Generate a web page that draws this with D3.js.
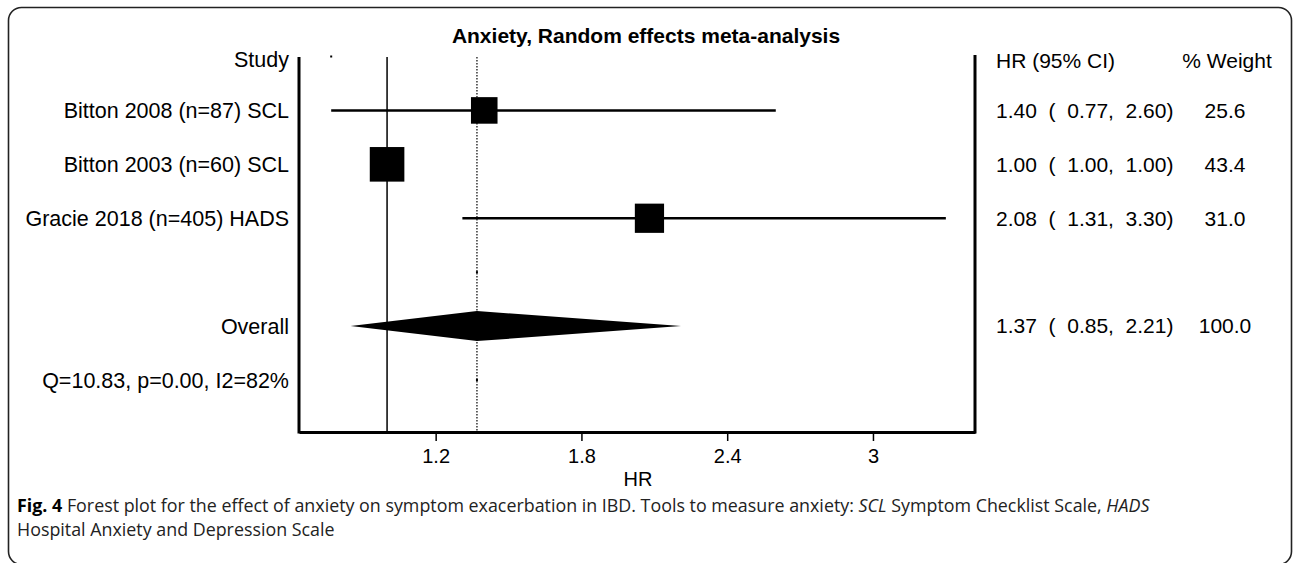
<!DOCTYPE html>
<html>
<head>
<meta charset="utf-8">
<script src="https://cdn.jsdelivr.net/npm/d3@7"></script>
<style>
	body { margin: 0; background: #fff; }
	svg text { font-family: "Liberation Sans", Arial, sans-serif; }
</style>
</head>
<body>
<svg id="forest" width="1293" height="563"></svg>
<script>
// study level data
var studies = ["Bitton 2008 (n=87) SCL", "Bitton 2003 (n=60) SCL", "Gracie 2018 (n=405) HADS"];
var hr = [1.40, 1.00, 2.08];
var lower = [0.77, 1.00, 1.31];
var upper = [2.60, 1.00, 3.30];
var weights = [25.6, 43.4, 31.0];

// pooled estimate
var overallHr = 1.37;
var overallCi = [0.85, 2.21];
var overallWeight = 100.0;
var hetLabel = "Q=10.83, p=0.00, I2=82%";

var xTicks = [1.2, 1.8, 2.4, 3];
var rows = ["header", "s0", "s1", "s2", "blank", "overall", "het"];

drawForest();

function drawForest(){
	var svg = d3.select("#forest");

	var left = 299, right = 975, axisY = 432;

	var x = d3.scaleLinear()
		.domain([0.6375, 3.42])
		.range([left, right]);

	var y = d3.scalePoint()
		.domain(rows)
		.range([56.5, 380]);

	var fmt = d3.format(".2f");

	// card border (bottom edge sits just below the window)
	svg.append("rect")
		.attr("x", 8.5)
		.attr("y", 7.5)
		.attr("width", 1283)
		.attr("height", 557)
		.attr("rx", 13)
		.attr("fill", "none")
		.attr("stroke", "#222")
		.attr("stroke-width", 1.6);

	svg.append("text")
		.attr("x", 646)
		.attr("y", 43)
		.attr("text-anchor", "middle")
		.attr("font-size", 21)
		.attr("font-weight", "bold")
		.text("Anxiety, Random effects meta-analysis");

	var g = svg.append("g");

	// reference lines at 1 and at the pooled estimate
	g.append("line")
		.attr("x1", x(1)).attr("x2", x(1))
		.attr("y1", 57).attr("y2", axisY)
		.attr("stroke", "#000")
		.attr("stroke-width", 1.5);

	g.append("line")
		.attr("x1", x(overallHr)).attr("x2", x(overallHr))
		.attr("y1", 57).attr("y2", axisY)
		.attr("stroke", "#000")
		.attr("stroke-width", 1.2)
		.attr("stroke-dasharray", "1.5,1.5");

	// frame lines
	g.append("line")
		.attr("x1", left).attr("x2", left)
		.attr("y1", 57).attr("y2", axisY + 1.5)
		.attr("stroke", "#000")
		.attr("stroke-width", 3);

	g.append("line")
		.attr("x1", right).attr("x2", right)
		.attr("y1", 55).attr("y2", axisY + 1.5)
		.attr("stroke", "#000")
		.attr("stroke-width", 3);

	var axis = g.append("g")
		.attr("transform", "translate(0," + axisY + ")")
		.call(d3.axisBottom(x).tickValues(xTicks).tickFormat(d3.format("")).tickSize(9).tickSizeOuter(0).tickPadding(8));

	axis.select(".domain")
		.attr("stroke-width", 3);
	axis.selectAll(".tick line")
		.attr("stroke-width", 1.5);
	axis.selectAll(".tick text")
		.attr("font-size", 20)
		.attr("font-family", "Liberation Sans, Arial, sans-serif")
		.attr("fill", "#000");

	svg.append("text")
		.attr("x", 638)
		.attr("y", 486)
		.attr("text-anchor", "middle")
		.attr("font-size", 20)
		.text("HR");

	// tiny markers drawn by the original package
	var dots = [{row: "header", v: lower[0]}, {row: "blank", v: overallHr}, {row: "het", v: overallHr}];
	g.selectAll(".dot")
		.data(dots)
		.enter().append("rect")
			.attr("class", "dot")
			.attr("x", function(d){ return x(d.v) - 1; })
			.attr("y", function(d){ return y(d.row) - 1; })
			.attr("width", 2)
			.attr("height", 2)
			.attr("fill", "#000");

	var data = studies.map(function(s, i){
		return {name: s, row: "s" + i, hr: hr[i], lo: lower[i], hi: upper[i], w: weights[i]};
	});

	var box = d3.scaleSqrt()
		.domain([0, 100])
		.range([0, 52.5]);

	var st = g.selectAll(".study")
		.data(data)
		.enter().append("g")
			.attr("class", "study");

	st.append("line")
		.attr("x1", function(d){ return x(d.lo); })
		.attr("x2", function(d){ return x(d.hi); })
		.attr("y1", function(d){ return y(d.row); })
		.attr("y2", function(d){ return y(d.row); })
		.attr("stroke", "#000")
		.attr("stroke-width", 2.5);

	st.append("rect")
		.attr("x", function(d){ return x(d.hr) - box(d.w) / 2; })
		.attr("y", function(d){ return y(d.row) - box(d.w) / 2; })
		.attr("width", function(d){ return box(d.w); })
		.attr("height", function(d){ return box(d.w); })
		.attr("fill", "#000");

	// pooled diamond
	var oy = y("overall");
	g.append("path")
		.attr("d", "M" + x(overallCi[0]) + "," + oy +
			"L" + x(overallHr) + "," + (oy - 15) +
			"L" + x(overallCi[1]) + "," + oy +
			"L" + x(overallHr) + "," + (oy + 15) + "Z")
		.attr("fill", "#000");

	// left labels
	var labels = [{row: "header", t: "Study"}]
		.concat(data.map(function(d){ return {row: d.row, t: d.name}; }))
		.concat([{row: "overall", t: "Overall"}, {row: "het", t: hetLabel}]);

	svg.selectAll(".lab")
		.data(labels)
		.enter().append("text")
			.attr("class", "lab")
			.attr("x", 289)
			.attr("y", function(d){ return y(d.row) + (d.row == "header" ? 3 : 0); })
			.attr("dy", "0.35em")
			.attr("text-anchor", "end")
			.attr("font-size", 21.5)
			.text(function(d){ return d.t; });

	// right columns
	var rightRows = data.map(function(d){ return {row: d.row, hr: d.hr, lo: d.lo, hi: d.hi, w: d.w}; })
		.concat([{row: "overall", hr: overallHr, lo: overallCi[0], hi: overallCi[1], w: overallWeight}]);

	svg.append("text")
		.attr("x", 996)
		.attr("y", y("header") + 4)
		.attr("dy", "0.35em")
		.attr("font-size", 21)
		.text("HR (95% CI)");

	svg.append("text")
		.attr("x", 1227)
		.attr("y", y("header") + 4)
		.attr("dy", "0.35em")
		.attr("text-anchor", "middle")
		.attr("font-size", 21)
		.text("% Weight");

	svg.selectAll(".ci")
		.data(rightRows)
		.enter().append("text")
			.attr("class", "ci")
			.attr("x", 996)
			.attr("y", function(d){ return y(d.row); })
			.attr("dy", "0.35em")
			.attr("font-size", 21)
			.style("white-space", "pre")
			.text(function(d){ return fmt(d.hr) + "  (  " + fmt(d.lo) + ",  " + fmt(d.hi) + ")"; });

	svg.selectAll(".wt")
		.data(rightRows)
		.enter().append("text")
			.attr("class", "wt")
			.attr("x", 1225)
			.attr("y", function(d){ return y(d.row); })
			.attr("dy", "0.35em")
			.attr("text-anchor", "middle")
			.attr("font-size", 21)
			.text(function(d){ return d3.format(".1f")(d.w); });

	// caption, squeezed horizontally like the condensed journal font
	var cap = svg.append("g");

	var cap1 = cap.append("text")
		.attr("x", 0)
		.attr("y", 512)
		.attr("font-size", 18.5)
		.attr("fill", "#222")
		.style("font-family", "'Open Sans', sans-serif");
	cap1.append("tspan").attr("font-weight", "bold").attr("fill", "#000").text("Fig. 4");
	cap1.append("tspan").text(" Forest plot for the effect of anxiety on symptom exacerbation in IBD. Tools to measure anxiety: ");
	cap1.append("tspan").attr("font-style", "italic").text("SCL");
	cap1.append("tspan").text(" Symptom Checklist Scale, ");
	cap1.append("tspan").attr("font-style", "italic").text("HADS");

	cap.append("text")
		.attr("x", 0)
		.attr("y", 536)
		.attr("font-size", 18.5)
		.attr("fill", "#222")
		.style("font-family", "'Open Sans', sans-serif")
		.text("Hospital Anxiety and Depression Scale");

	var squeeze = 1133 / cap1.node().getComputedTextLength();
	cap.attr("transform", "translate(17,0) scale(" + squeeze + ",1)");
}
</script>
</body>
</html>
